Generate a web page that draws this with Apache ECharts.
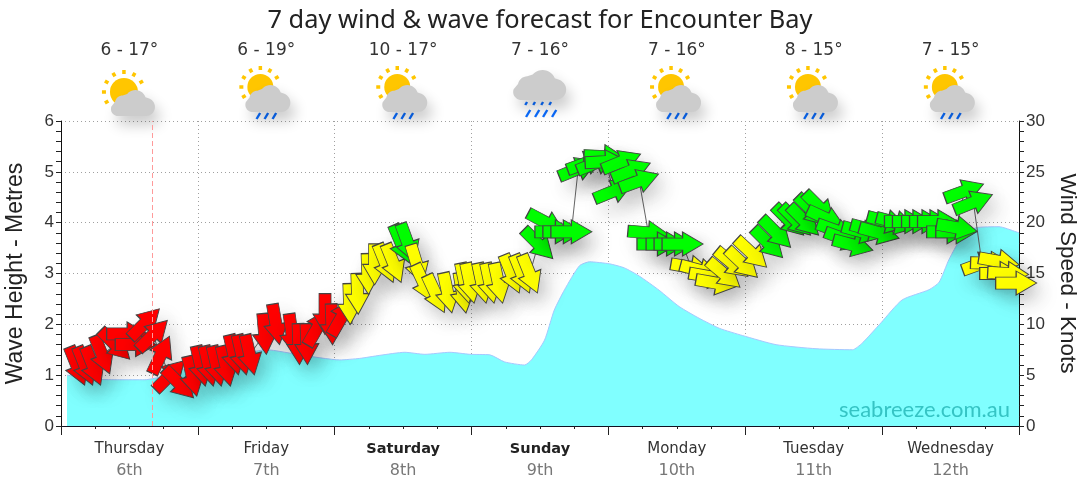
<!DOCTYPE html>
<html><head><meta charset="utf-8">
<style>html,body{margin:0;padding:0;background:#fff}#c{width:1080px;height:490px}</style>
<script src="https://cdn.jsdelivr.net/npm/echarts@6/dist/echarts.min.js"></script>
</head><body><div id="c"></div>
<script>
const titleText = '7 day wind & wave forecast for Encounter Bay';
const days = ['Thursday','Friday','Saturday','Sunday','Monday','Tuesday','Wednesday'];
const dates = ['6th','7th','8th','9th','10th','11th','12th'];
const boldDays = ['Saturday','Sunday'];
const temps = ['6 - 17°','6 - 19°','10 - 17°','7 - 16°','7 - 16°','8 - 15°','7 - 15°'];
const icons = ['partly','shower','shower','rain','shower','shower','shower'];
const waveHours = [1.05,6.3,10.3,14.7,17.3,19.1,22.6,29.6,36,41.9,48.9,52.4,55.9,60.3,63.8,68.2,71.7,75.2,77.8,81.3,82.5,84.8,86.5,88.3,90.9,92.7,96.2,98.8,101.4,104.9,108.4,111.9,115.5,119.5,125.4,132.4,138.8,140.5,143.8,147.5,152.2,154,155.7,158,160.5,164.5,167.5,168];
const waveMetres = [1.0,.92,.91,.91,.96,1.04,1.15,1.35,1.5,1.4,1.3,1.33,1.39,1.45,1.41,1.45,1.41,1.40,1.26,1.2,1.3,1.69,2.28,2.68,3.15,3.23,3.19,3.11,2.95,2.67,2.35,2.12,1.92,1.78,1.6,1.52,1.5,1.63,2.03,2.48,2.68,2.83,3.27,3.72,3.9,3.92,3.82,3.8];
const windHours = [2.8,4.2,5.6,7.2,9.5,11.6,13.1,14.7,16.1,17.5,19.1,20.7,23,24.5,25.9,27.3,28.9,30.3,31.7,33.1,35.7,37.7,40.5,41.7,43.1,45,46.3,47.5,49.2,50.6,52,53.8,55,56.9,58.3,59.7,60.8,62.4,63.6,65.7,67.8,70.4,70.8,71.7,73.8,75.2,76.7,79,80.8,82.2,83.7,85.1,86.7,88.1,89.5,90.7,92.2,93.9,95.3,95.5,96.9,98.3,100,101.4,103,104.6,106.2,107.6,109,110.5,112.1,113.7,114.9,116.3,117.7,119.5,121.1,124,125.4,127.7,128.9,130.3,131.7,133,134.2,136,137.4,138.9,140.5,142,143.5,144.9,146.5,148,149.4,151,152.4,153.8,155.4,157,157.1,158.4,160,161.5,163.1,164.5,164.7,166.1,167.5];
const windKnots = [5.9,5.9,5.9,7,8,9.05,8,10.1,8.95,7,5,4.2,4.9,5.9,5.9,5.9,5.9,7,7,7,9.05,10,9.05,8.05,8.05,9.7,11,10,10.7,12,13,14.95,15.9,16,16,17.9,18,15.9,14.05,13,13.1,13.1,14.05,14.05,14.05,14.05,14.05,14.95,14.95,14.95,17.9,20,19.1,19.1,19.1,25.3,25.9,25.9,26.5,26,23.1,26,25.1,24.1,19,17.9,17.9,17.9,17.9,15.6,15.3,14.7,14.06,14.95,16,16,17,18,19,20.2,20.2,20.2,21.2,21.5,20.4,19.2,18.4,17.8,19.1,19.3,19,20.1,20,20.1,20.1,20.1,20.1,20.1,19.1,19.1,19.5,23.1,22,16,16,16.2,15,15,14.06];
const windDir = [158,158,158,158,135,90,90,45,45,25,45,135,167,167,167,167,167,167,167,167,175,170,172,178,178,30,180,178,30,178,178,178,180,158,158,157,160,163,155,155,168,170,168,168,168,168,168,158,158,158,135,118,90,90,90,68,70,68,93,87,68,68,68,70,95,90,90,90,90,100,105,100,100,130,130,133,133,135,135,135,135,135,135,135,115,110,110,105,105,105,105,105,105,90,90,90,90,90,90,90,100,70,68,70,92,100,90,93,90];
const arrowPath = 'path://M-6,20L-6,0L-12,0L0,-20L12,0L6,0L6,20Z';
const bandColor = k => k < 11.5 ? '#ff0000' : k < 17.4 ? '#ffff00' : '#00ff00';

const chart = echarts.init(document.getElementById('c'));
const gridTop = 121, gridLeft = 61, dayWidth = 136.9;
const sunColor = '#ffc600', cloudColor = '#cccccc', rainColor = '#0a6cff';
const shadow = {shadowBlur:14, shadowOffsetX:5, shadowOffsetY:9, shadowColor:'rgba(0,0,0,0.2)'};
function arcPts(cx,cy,r,a0,a1){const p=[];for(let a=a0;a<=a1;a+=10){const t=a*Math.PI/180;p.push([cx+r*Math.cos(t),cy+r*Math.sin(t)]);}return p;}
function cloud(x,y,w,h){
  const pts=[...arcPts(7,19,7,90,200),...arcPts(12,13.5,8,190,270),...arcPts(25,11,11,220,340),...arcPts(36,17,9,290,450)];
  return {type:'polygon',shape:{points:pts.map(p=>[x+p[0]*w/45,y+p[1]*h/26])},style:Object.assign({fill:cloudColor},shadow),z:5};
}
function sun(cx,cy,r){
  const out=[{type:'circle',shape:{cx:cx,cy:cy,r:r},style:{fill:sunColor},z:4}];
  [0,30,60,-30,-60,-90,-120].forEach(a=>{
    const t=a*Math.PI/180, d1=r+4, d2=r+8;
    out.push({type:'line',shape:{x1:cx+d1*Math.sin(t),y1:cy-d1*Math.cos(t),x2:cx+d2*Math.sin(t),y2:cy-d2*Math.cos(t)},style:{stroke:sunColor,lineWidth:3.5},z:4});
  });
  return out;
}
function drops(list,y,h){return list.map(x=>({type:'line',shape:{x1:x+h*0.3,y1:y,x2:x-h*0.3,y2:y+h},style:{stroke:rainColor,lineWidth:2.4},z:4}));}
function iconGroup(kind,i){
  const cx=gridLeft+dayWidth*(i+0.5);
  let ch=[];
  if(kind==='partly') ch=[...sun(-5.5,92,14),cloud(-18.5,90,44,26)];
  if(kind==='shower') ch=[...sun(-6,87,13),...drops([-8,0,8],113,6),cloud(-21,85,45,27)];
  if(kind==='rain') ch=[...drops([-14,-6,2,10],102,3),...drops([-12,-3,5,14],110,7),cloud(-27,70,53,30)];
  return {type:'group',x:cx,y:0,silent:true,children:ch};
}
chart.setOption({
  animation:false,
  backgroundColor:'#fff',
  title:{text:titleText,left:'center',top:3,textStyle:{fontFamily:'Noto Sans',fontSize:25.4,fontWeight:'normal',color:'#222'}},
  grid:{left:gridLeft,right:61,top:gridTop,bottom:64,containLabel:false,outerBoundsMode:'none'},
  xAxis:[
    {type:'value',min:0,max:168,interval:24,
      axisLine:{lineStyle:{color:'#112',width:1},onZero:false},
      axisTick:{show:true,length:9,lineStyle:{color:'#222'}},
      minorTick:{show:true,splitNumber:4,length:3,lineStyle:{color:'#222'}},
      axisLabel:{show:false},
      splitLine:{show:true,lineStyle:{color:'#a0a0a0',type:[1,3],width:1}}},
    {type:'category',position:'bottom',data:days,
      axisLine:{show:false},axisTick:{show:false},splitLine:{show:false},
      axisLabel:{margin:12,interval:0,lineHeight:22,
        formatter:(v,i)=>`{${boldDays.includes(v)?'b':'d'}|${v}}\n{n|${dates[i]}}`,
        rich:{d:{fontFamily:'DejaVu Sans',fontSize:15,color:'#333',lineHeight:22},
              b:{fontFamily:'DejaVu Sans',fontSize:14.5,color:'#222',fontWeight:'bold',lineHeight:22},
              n:{fontFamily:'DejaVu Sans',fontSize:16,color:'#777',lineHeight:22}}}},
    {type:'category',position:'top',data:temps,
      axisLine:{show:false},axisTick:{show:false},splitLine:{show:false},
      axisLabel:{margin:62,interval:0,fontFamily:'DejaVu Sans',fontSize:17,color:'#333'}}
  ],
  yAxis:[
    {type:'value',min:0,max:6,interval:1,name:'Wave Height - Metres',nameLocation:'middle',nameGap:34,nameRotate:90,
      nameTextStyle:{fontFamily:'Liberation Sans',fontSize:23,color:'#222'},
      axisLine:{show:true,lineStyle:{color:'#111'}},
      axisTick:{show:true,length:5,lineStyle:{color:'#222'}},
      minorTick:{show:true,splitNumber:5,length:5,lineStyle:{color:'#222'}},
      axisLabel:{margin:7,fontFamily:'Liberation Sans',fontSize:17,color:'#333'},
      splitLine:{show:true,lineStyle:{color:'#a0a0a0',type:[1,3],width:1}}},
    {type:'value',min:0,max:30,interval:5,position:'right',name:'Wind Speed - Knots',nameLocation:'middle',nameGap:36,nameRotate:-90,
      nameTextStyle:{fontFamily:'Liberation Sans',fontSize:22.5,color:'#222'},
      axisLine:{show:true,lineStyle:{color:'#111'}},
      axisTick:{show:true,length:5,lineStyle:{color:'#222'}},
      minorTick:{show:true,splitNumber:5,length:5,lineStyle:{color:'#222'}},
      axisLabel:{margin:7,fontFamily:'Liberation Sans',fontSize:17,color:'#333'},
      splitLine:{show:false}}
  ],
  series:[
    {type:'line',name:'Wave',xAxisIndex:0,yAxisIndex:0,z:1,showSymbol:false,smooth:0.2,
      data:waveHours.map((h,i)=>[h,waveMetres[i]]),
      lineStyle:{color:'#a6c8ff',width:1},areaStyle:{color:'#80ffff',opacity:1},
      markLine:{silent:true,symbol:'none',label:{show:false},
        lineStyle:{color:'#ff9a9a',type:[5,3],width:1},data:[{xAxis:16}]}},
    {type:'line',name:'WindLine',xAxisIndex:0,yAxisIndex:1,z:3,showSymbol:false,
      data:windHours.map((h,i)=>[h,windKnots[i]]),
      lineStyle:{color:'#666',width:1}},
    {type:'scatter',name:'Wind',xAxisIndex:0,yAxisIndex:1,z:4,clip:false,
      symbol:arrowPath,symbolSize:[24,41],symbolKeepAspect:false,
      data:windHours.map((h,i)=>({value:[h,windKnots[i]],symbolRotate:-windDir[i],
        itemStyle:{opacity:1,color:bandColor(windKnots[i]),borderColor:'#444',borderWidth:1,
          shadowBlur:20,shadowOffsetX:8,shadowOffsetY:10,shadowColor:'rgba(0,0,0,0.17)'}}))}
  ],
  graphic:[
    ...icons.map(iconGroup),
    {type:'text',right:70,top:399,silent:true,z:6,style:{text:'seabreeze.com.au',fontFamily:'Lato',fontSize:22,fill:'#35c4c4',letterSpacing:1}}
  ]
});
</script></body></html>
